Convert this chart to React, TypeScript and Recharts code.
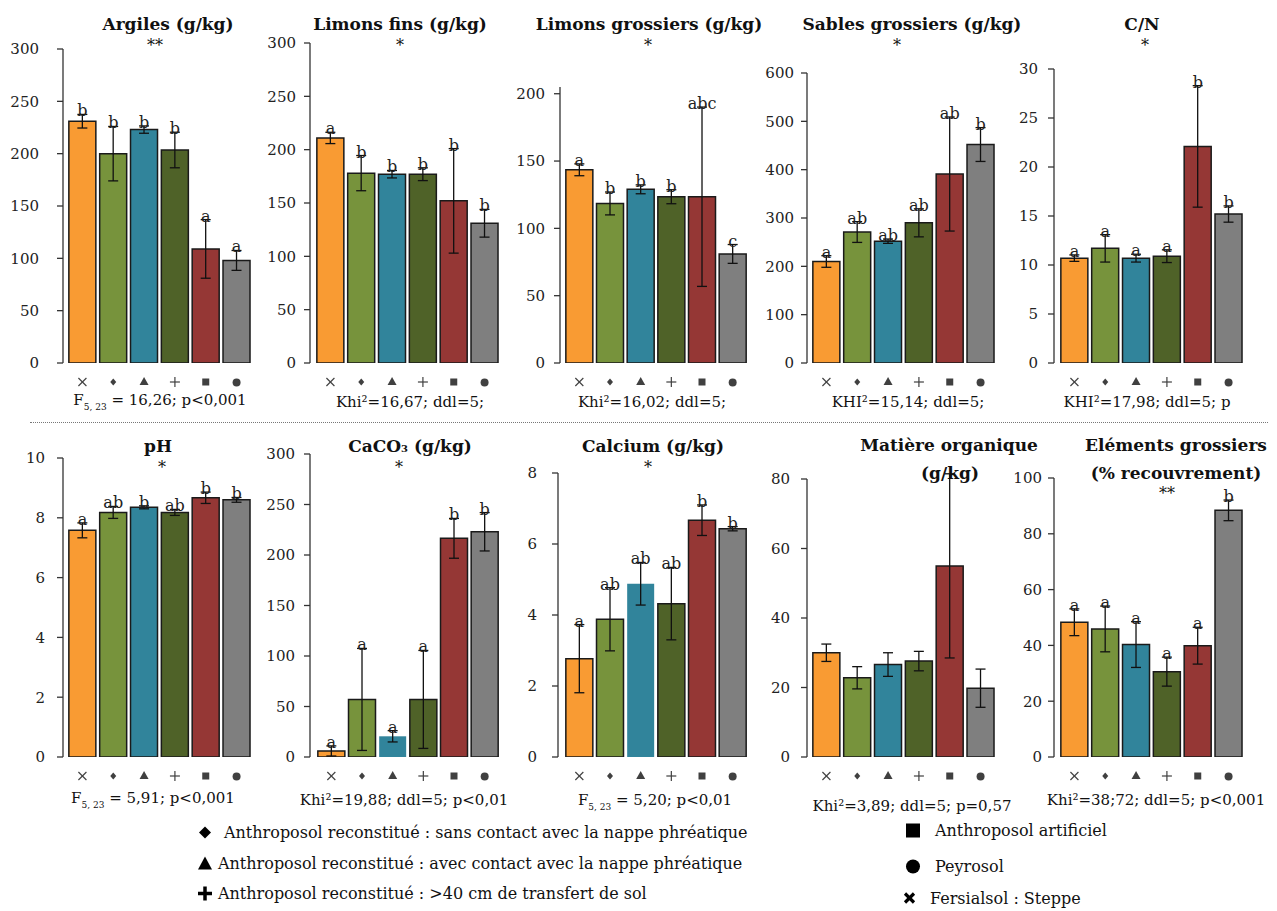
import React from "react";
import { ComposedChart, Bar, Line, XAxis, YAxis, ErrorBar, Cell } from "recharts";

// soil groups, same order in every panel
const groups = ["Fersialsol", "SansContact", "AvecContact", "Transfert", "Artificiel", "Peyrosol"];
const barColors = ["#F99B33", "#77933C", "#31849B", "#4F6228", "#953735", "#7F7F7F"];

const argilesMean = [231, 200, 223, 203.5, 109, 98];
const argilesErr = [6.5, 26, 3.5, 17, 28, 9.5];
const argilesLetters = ["b", "b", "b", "b", "a", "a"];

const limonsFinsMean = [211, 178, 177, 177, 152, 131];
const limonsFinsErr = [5.3, 16.5, 3.5, 6, 49, 13];
const limonsFinsLetters = ["a", "b", "b", "b", "b", "b"];

const limonsGrosMean = [143.5, 118.5, 129, 123.5, 123.5, 81];
const limonsGrosErr = [4.4, 8.5, 3.3, 5.2, 66.6, 7];
const limonsGrosLetters = ["a", "b", "b", "b", "abc", "c"];

const sablesMean = [210, 271, 252, 290, 391, 452];
const sablesErr = [12, 21.5, 4.5, 29, 118, 35];
const sablesLetters = ["a", "ab", "ab", "ab", "ab", "b"];

const cnMean = [10.7, 11.7, 10.7, 10.9, 22.1, 15.2];
const cnErr = [0.33, 1.4, 0.4, 0.65, 6.2, 0.83];
const cnLetters = ["a", "a", "a", "a", "b", "b"];

const phMean = [7.58, 8.18, 8.35, 8.18, 8.67, 8.6];
const phErr = [0.25, 0.2, 0.05, 0.1, 0.19, 0.08];
const phLetters = ["a", "ab", "b", "ab", "b", "b"];

const caco3Mean = [6, 57, 20.5, 57, 216.5, 223];
const caco3Err = [5, 50.5, 5.6, 48.5, 19.7, 19];
const caco3Letters = ["a", "a", "a", "a", "b", "b"];

const calciumMean = [2.77, 3.88, 4.88, 4.32, 6.67, 6.43];
const calciumErr = [0.96, 0.89, 0.6, 1.02, 0.43, 0.06];
const calciumLetters = ["a", "ab", "ab", "ab", "b", "b"];

const moMean = [30, 22.8, 26.6, 27.6, 55, 19.8];
const moErr = [2.5, 3.2, 3.4, 2.8, 26.5, 5.5];
const moLetters = ["", "", "", "", "", ""];

const egMean = [48.3, 45.9, 40.3, 30.6, 39.9, 88.4];
const egErr = [4.8, 8.2, 8.2, 5.2, 6.6, 3.7];
const egLetters = ["a", "a", "a", "a", "a", "b"];

const ticks300 = [0, 50, 100, 150, 200, 250, 300];
const ticks200 = [0, 50, 100, 150, 200];
const ticks600 = [0, 100, 200, 300, 400, 500, 600];
const ticks30 = [0, 5, 10, 15, 20, 25, 30];
const ticks10 = [0, 2, 4, 6, 8, 10];
const ticks8 = [0, 2, 4, 6, 8];
const ticks80 = [0, 20, 40, 60, 80];
const ticks100 = [0, 20, 40, 60, 80, 100];

const FONT = "'DejaVu Serif', serif";
const INK = "#1a1a1a";
const SYM = "#404040";

function SymbolTick(props: any) {
  const { x, y, payload } = props;
  const i = groups.indexOf(payload.value);
  const cy = y + 19;
  let shape: React.ReactNode = null;
  if (i === 0) {
    shape = (
      <g stroke={SYM} strokeWidth={1.2}>
        <line x1={x - 4} y1={cy - 4} x2={x + 4} y2={cy + 4} />
        <line x1={x - 4} y1={cy + 4} x2={x + 4} y2={cy - 4} />
      </g>
    );
  } else if (i === 1) {
    shape = <polygon points={`${x},${cy - 3.5} ${x + 3},${cy} ${x},${cy + 3.5} ${x - 3},${cy}`} fill={SYM} />;
  } else if (i === 2) {
    shape = <polygon points={`${x},${cy - 5} ${x + 4.5},${cy + 3} ${x - 4.5},${cy + 3}`} fill={SYM} />;
  } else if (i === 3) {
    shape = (
      <g stroke={SYM} strokeWidth={1.2}>
        <line x1={x - 5} y1={cy} x2={x + 5} y2={cy} />
        <line x1={x} y1={cy - 5} x2={x} y2={cy + 5} />
      </g>
    );
  } else if (i === 4) {
    shape = <rect x={x - 3.5} y={cy - 3.5} width={7} height={7} fill={SYM} />;
  } else if (i === 5) {
    shape = <circle cx={x} cy={cy + 0.5} r={4} fill={SYM} />;
  }
  return <g>{shape}</g>;
}

type PanelProps = {
  mean: number[];
  err: number[];
  letters: string[];
  max: number;
  ticks: number[];
  axisX: number;
  topPx: number;
  zeroPx: number;
  bandStart: number;
  bandEnd: number;
  gap: number;
  noStroke?: number[];
};

function Panel(p: PanelProps) {
  const YW = 60;
  const MT = 10;
  const XH = 34;
  const data = groups.map((g, i) => ({
    g,
    mean: p.mean[i],
    err: p.err[i],
    top: p.mean[i] + p.err[i],
  }));
  const width = p.bandEnd - p.axisX + YW + 2;
  const height = p.zeroPx - p.topPx + MT + XH;
  return (
    <div style={{ position: "absolute", left: p.axisX - YW, top: p.topPx - MT }}>
      <ComposedChart
        width={width}
        height={height}
        data={data}
        margin={{ top: MT, right: 2, left: 0, bottom: 0 }}
        barCategoryGap="6%"
      >
        <XAxis
          dataKey="g"
          axisLine={false}
          tickLine={false}
          tickSize={0}
          tickMargin={0}
          interval={0}
          height={XH}
          padding={{ left: p.bandStart - p.axisX, right: 0 }}
          tick={<SymbolTick />}
        />
        <YAxis
          domain={[0, p.max]}
          ticks={p.ticks}
          allowDataOverflow
          interval={0}
          width={YW}
          tickSize={6}
          tickMargin={p.gap - 6}
          axisLine={{ stroke: "#333", strokeWidth: 1.3 }}
          tickLine={{ stroke: "#333", strokeWidth: 1.3 }}
          tick={{ fill: "#222", fontSize: 15, fontFamily: FONT }}
        />
        <Bar dataKey="mean" isAnimationActive={false}>
          {data.map((d, i) => (
            <Cell
              key={d.g}
              fill={barColors[i]}
              stroke={p.noStroke && p.noStroke.includes(i) ? "none" : INK}
              strokeWidth={1.5}
            />
          ))}
          <ErrorBar dataKey="err" width={5} stroke="#111" strokeWidth={1.3} direction="y" />
        </Bar>
        <Line
          dataKey="top"
          stroke="none"
          dot={false}
          activeDot={false}
          isAnimationActive={false}
          label={(lp: any) => (
            <text
              key={`lbl-${lp.index}`}
              x={lp.x}
              y={lp.y + 2}
              textAnchor="middle"
              fontSize={16}
              fontFamily={FONT}
              fill="#222"
            >
              {p.letters[lp.index]}
            </text>
          )}
        />
      </ComposedChart>
    </div>
  );
}

function Txt({
  x,
  y,
  bold,
  size,
  children,
}: {
  x: number;
  y: number;
  bold?: boolean;
  size?: number;
  children: React.ReactNode;
}) {
  return (
    <div
      style={{
        position: "absolute",
        left: x,
        top: y,
        transform: "translate(-50%, -50%)",
        whiteSpace: "nowrap",
        fontFamily: FONT,
        fontSize: size ?? 15,
        fontWeight: bold ? 700 : 400,
        color: "#111",
        lineHeight: 1,
      }}
    >
      {children}
    </div>
  );
}

const F = (rest: string) => (
  <>
    F<sub style={{ fontSize: 9, verticalAlign: "-5px" }}>5, 23</sub>
    {rest}
  </>
);

function LegendItem({
  x,
  y,
  sym,
  label,
  textGap,
}: {
  x: number;
  y: number;
  sym: React.ReactNode;
  label: string;
  textGap: number;
}) {
  return (
    <div
      style={{
        position: "absolute",
        left: x,
        top: y,
        transform: "translateY(-50%)",
        display: "flex",
        alignItems: "center",
        whiteSpace: "nowrap",
        fontFamily: FONT,
        fontSize: 16,
        color: "#111",
      }}
    >
      <svg width={22} height={16} style={{ marginRight: textGap }}>
        {sym}
      </svg>
      {label}
    </div>
  );
}

export default function App() {
  return (
    <div style={{ position: "absolute", left: 0, top: 0, width: 1277, height: 911, background: "#fff" }}>
      {/* top row */}
      <Panel mean={argilesMean} err={argilesErr} letters={argilesLetters} max={300} ticks={ticks300}
        axisX={63} topPx={49} zeroPx={363} bandStart={67} bandEnd={252} gap={24} />
      <Panel mean={limonsFinsMean} err={limonsFinsErr} letters={limonsFinsLetters} max={300} ticks={ticks300}
        axisX={310} topPx={43} zeroPx={363} bandStart={315} bandEnd={500} gap={14} />
      <Panel mean={limonsGrosMean} err={limonsGrosErr} letters={limonsGrosLetters} max={205} ticks={ticks200}
        axisX={560} topPx={87} zeroPx={363} bandStart={564} bandEnd={748} gap={15} />
      <Panel mean={sablesMean} err={sablesErr} letters={sablesLetters} max={600} ticks={ticks600}
        axisX={807} topPx={73} zeroPx={363} bandStart={811} bandEnd={996} gap={13} />
      <Panel mean={cnMean} err={cnErr} letters={cnLetters} max={30} ticks={ticks30}
        axisX={1054} topPx={69} zeroPx={363} bandStart={1059} bandEnd={1244} gap={16} />

      {/* bottom row */}
      <Panel mean={phMean} err={phErr} letters={phLetters} max={10} ticks={ticks10}
        axisX={63} topPx={458} zeroPx={757} bandStart={67} bandEnd={252} gap={18} />
      <Panel mean={caco3Mean} err={caco3Err} letters={caco3Letters} max={300} ticks={ticks300}
        axisX={310} topPx={454} zeroPx={757} bandStart={316} bandEnd={500} gap={15} noStroke={[2]} />
      <Panel mean={calciumMean} err={calciumErr} letters={calciumLetters} max={8} ticks={ticks8}
        axisX={558} topPx={473} zeroPx={757} bandStart={564} bandEnd={748} gap={21} noStroke={[2]} />
      <Panel mean={moMean} err={moErr} letters={moLetters} max={80} ticks={ticks80}
        axisX={807} topPx={479} zeroPx={757} bandStart={811} bandEnd={996} gap={17} />
      <Panel mean={egMean} err={egErr} letters={egLetters} max={100} ticks={ticks100}
        axisX={1054} topPx={478} zeroPx={757} bandStart={1059} bandEnd={1244} gap={12} />

      {/* titles */}
      <Txt x={168} y={24} bold size={17}>Argiles (g/kg)</Txt>
      <Txt x={400} y={24} bold size={17}>Limons fins (g/kg)</Txt>
      <Txt x={649} y={24} bold size={17}>Limons grossiers (g/kg)</Txt>
      <Txt x={912} y={24} bold size={17}>Sables grossiers (g/kg)</Txt>
      <Txt x={1142} y={24} bold size={17}>C/N</Txt>
      <Txt x={158} y={446} bold size={17}>pH</Txt>
      <Txt x={410} y={446} bold size={17}>
        CaCO<span style={{ fontSize: 10 }}>3</span> (g/kg)
      </Txt>
      <Txt x={653} y={446} bold size={17}>Calcium (g/kg)</Txt>
      <Txt x={949} y={445} bold size={17}>Matière organique</Txt>
      <Txt x={950} y={473} bold size={17}>(g/kg)</Txt>
      <Txt x={1176} y={445} bold size={17}>Eléments grossiers</Txt>
      <Txt x={1176} y={473} bold size={17}>(% recouvrement)</Txt>

      {/* significance marks */}
      <Txt x={155} y={46} size={16}>**</Txt>
      <Txt x={400} y={46} size={16}>*</Txt>
      <Txt x={648} y={46} size={16}>*</Txt>
      <Txt x={897} y={46} size={16}>*</Txt>
      <Txt x={1145} y={46} size={16}>*</Txt>
      <Txt x={162} y={468} size={16}>*</Txt>
      <Txt x={399} y={468} size={16}>*</Txt>
      <Txt x={648} y={468} size={16}>*</Txt>
      <Txt x={1167} y={494} size={16}>**</Txt>

      {/* test statistics */}
      <Txt x={160} y={402}>{F(" = 16,26; p<0,001")}</Txt>
      <Txt x={410} y={402}>Khi²=16,67; ddl=5;</Txt>
      <Txt x={652} y={402}>Khi²=16,02; ddl=5;</Txt>
      <Txt x={908} y={402}>KHI²=15,14; ddl=5;</Txt>
      <Txt x={1147} y={402}>KHI²=17,98; ddl=5; p</Txt>
      <Txt x={153} y={800}>{F(" = 5,91; p<0,001")}</Txt>
      <Txt x={404} y={800}>Khi²=19,88; ddl=5; p&lt;0,01</Txt>
      <Txt x={655} y={802}>{F(" = 5,20; p<0,01")}</Txt>
      <Txt x={912} y={806}>Khi²=3,89; ddl=5; p=0,57</Txt>
      <Txt x={1156} y={800}>Khi²=38;72; ddl=5; p&lt;0,001</Txt>

      {/* separator */}
      <div style={{ position: "absolute", left: 30, top: 422, width: 1238, borderTop: "1px dotted #777" }} />

      {/* legend */}
      <LegendItem x={194} y={832} textGap={8} label="Anthroposol reconstitué : sans contact avec la nappe phréatique"
        sym={<polygon points="11,2 17,8 11,14 5,8" fill="#000" />} />
      <LegendItem x={194} y={863} textGap={2} label="Anthroposol reconstitué : avec contact avec la nappe phréatique"
        sym={<polygon points="11,1 18,14 4,14" fill="#000" />} />
      <LegendItem x={194} y={893} textGap={2} label="Anthroposol reconstitué : >40 cm de transfert de sol"
        sym={<g stroke="#000" strokeWidth={3.5}><line x1={4} y1={8} x2={18} y2={8} /><line x1={11} y1={1} x2={11} y2={15} /></g>} />
      <LegendItem x={902} y={830} textGap={11} label="Anthroposol artificiel"
        sym={<rect x={4} y={1} width={14} height={14} fill="#000" />} />
      <LegendItem x={902} y={866} textGap={11} label="Peyrosol"
        sym={<circle cx={11} cy={8} r={7} fill="#000" />} />
      <LegendItem x={899} y={898} textGap={9} label="Fersialsol : Steppe"
        sym={<g stroke="#000" strokeWidth={3.2}><line x1={6} y1={3} x2={15} y2={12} /><line x1={6} y1={12} x2={15} y2={3} /></g>} />
    </div>
  );
}
